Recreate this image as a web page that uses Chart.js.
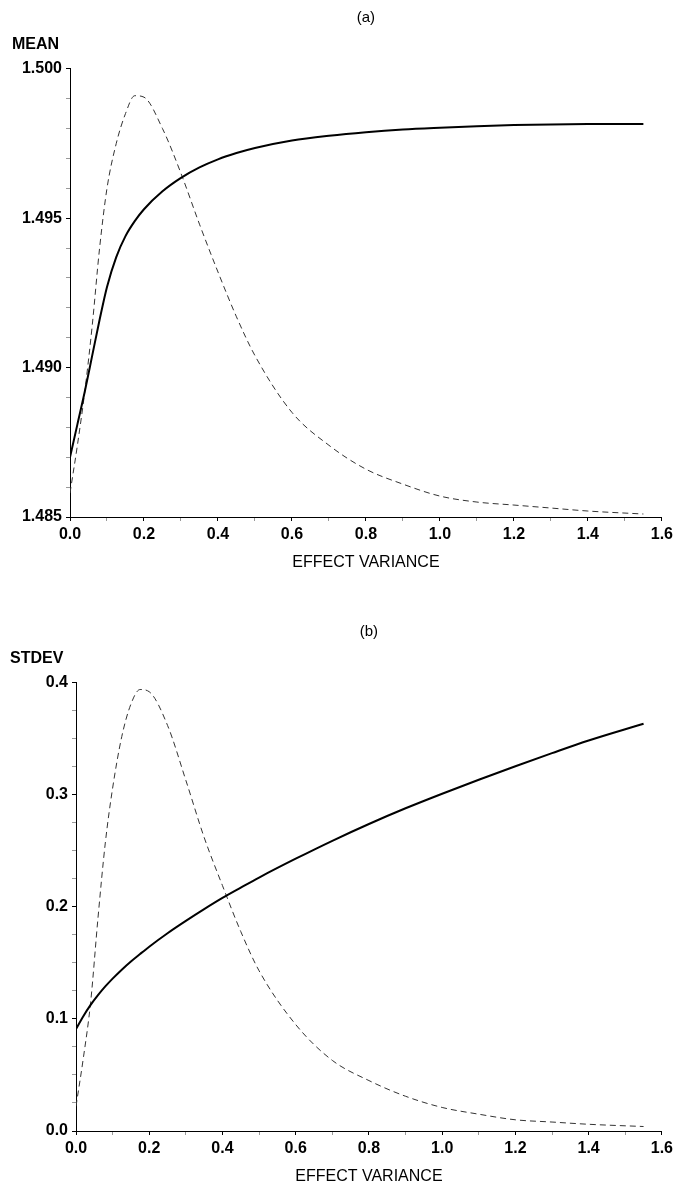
<!DOCTYPE html>
<html>
<head>
<meta charset="utf-8">
<script src="https://cdn.jsdelivr.net/npm/chart.js@4.4.0/dist/chart.umd.min.js"></script>
<style>
    body { margin: 0; background: #fff; }
    canvas { position: absolute; left: 0; }
    #grafica-a { top: 0; }
    #grafica-b { top: 614px; }
</style>
</head>
<body>
<canvas id="grafica-a" width="677" height="572"></canvas>
<canvas id="grafica-b" width="677" height="572"></canvas>
<script type="text/javascript">

    var effectVariance = [0, 0.02, 0.04, 0.06, 0.08, 0.1, 0.125, 0.15, 0.175, 0.2, 0.25, 0.3, 0.35, 0.4, 0.45,
                          0.5, 0.6, 0.7, 0.8, 0.9, 1.0, 1.1, 1.2, 1.3, 1.4, 1.55];

    // (a) solid curve: MEAN
    var meanCurve = [1.4870, 1.4881, 1.4892, 1.4904, 1.4916, 1.4927, 1.4937, 1.4944, 1.4949, 1.4953, 1.4959,
                     1.49635, 1.49670, 1.49697, 1.49718, 1.49735, 1.49760, 1.49776, 1.49788, 1.49797, 1.49803,
                     1.49808, 1.49812, 1.49814, 1.49815, 1.49815];
    // (a) dashed curve
    var meanDensity = [1.4858, 1.4874, 1.4892, 1.4914, 1.4940, 1.4960, 1.4975, 1.4985, 1.4991, 1.49905, 1.4980,
                       1.4965, 1.4948, 1.4932, 1.4917, 1.4904, 1.4885, 1.4874, 1.4866, 1.4861, 1.4857, 1.4855,
                       1.4854, 1.4853, 1.4852, 1.4851];

    // (b) solid curve: STDEV
    var stdevCurve = [0.0910, 0.1025, 0.1125, 0.1212, 0.1290, 0.1360, 0.1440, 0.1513, 0.1580, 0.1645, 0.1765,
                      0.1875, 0.1980, 0.2080, 0.2172, 0.2262, 0.2430, 0.2590, 0.2740, 0.2880, 0.3010, 0.3135,
                      0.3255, 0.3372, 0.3485, 0.3635];
    // (b) dashed curve
    var stdevDensity = [0.022, 0.065, 0.115, 0.190, 0.257, 0.306, 0.352, 0.381, 0.394, 0.392, 0.362, 0.313, 0.262,
                        0.219, 0.178, 0.143, 0.095, 0.063, 0.045, 0.031, 0.021, 0.015, 0.010, 0.008, 0.006, 0.004];

    var xTickLabels = [0.0, 0.2, 0.4, 0.6, 0.8, 1.0, 1.2, 1.4, 1.6];
    var meanTickLabels = [1.485, 1.490, 1.495, 1.500];
    var stdevTickLabels = [0.0, 0.1, 0.2, 0.3, 0.4];

    Chart.defaults.color = '#000';
    Chart.defaults.font.family = "'Liberation Sans', Arial, Helvetica, sans-serif";
    Chart.defaults.font.size = 16;
    Chart.defaults.font.weight = 'bold';

    function puntos(ys) {
        return effectVariance.map(function (x, i) { return { x: x, y: ys[i] }; });
    }

    function esMayor(lista, v) {
        return lista.some(function (t) { return Math.abs(t - v) < 1e-7; });
    }

    function crearGrafica(id, titulo, nombreY, solida, punteada, y) {
        var canvas = document.getElementById(id);
        var context = canvas.getContext('2d');
        return new Chart(context, {
            type: 'line',
            data: {
                datasets: [{
                    data: puntos(solida),
                    borderColor: '#000',
                    borderWidth: 2,
                    pointRadius: 0,
                    cubicInterpolationMode: 'monotone',
                    fill: false
                }, {
                    data: puntos(punteada),
                    borderColor: '#333',
                    borderWidth: 1,
                    borderDash: [6, 4],
                    pointRadius: 0,
                    cubicInterpolationMode: 'monotone',
                    fill: false
                }]
            },
            options: {
                responsive: false,
                animation: false,
                layout: { padding: { left: y.padLeft, right: y.padRight, top: 0, bottom: 0 } },
                plugins: {
                    legend: { display: false },
                    tooltip: { enabled: false },
                    title: {
                        display: true,
                        text: titulo,
                        fullSize: false,
                        font: { size: 15, weight: 'normal' },
                        padding: { top: 9, bottom: 0 }
                    },
                    subtitle: {
                        display: true,
                        text: nombreY,
                        align: 'start',
                        font: { size: 16, weight: 'bold' },
                        padding: { top: 8, bottom: 14.6 }
                    }
                },
                scales: {
                    x: {
                        type: 'linear',
                        min: 0,
                        max: 1.6,
                        afterFit: function (scale) { scale.height = 55; },
                        border: { color: '#000', width: 1 },
                        grid: {
                            drawOnChartArea: false,
                            tickLength: 4,
                            tickColor: function (ctx) { return esMayor(xTickLabels, ctx.tick.value) ? '#000' : '#999'; }
                        },
                        ticks: {
                            stepSize: 0.1,
                            autoSkip: false,
                            maxRotation: 0,
                            padding: 4,
                            callback: function (v) { return esMayor(xTickLabels, v) ? v.toFixed(1) : ''; }
                        },
                        title: {
                            display: true,
                            text: 'EFFECT VARIANCE',
                            font: { size: 16, weight: 'normal' },
                            padding: { top: 4, bottom: 0 }
                        }
                    },
                    y: {
                        min: y.min,
                        max: y.max,
                        afterFit: function (scale) { scale.width = y.ancho; },
                        border: { color: '#000', width: 1 },
                        grid: {
                            drawOnChartArea: false,
                            tickLength: 4,
                            tickColor: function (ctx) { return esMayor(y.etiquetas, ctx.tick.value) ? '#000' : '#999'; }
                        },
                        ticks: {
                            stepSize: y.paso,
                            autoSkip: false,
                            padding: 4,
                            callback: function (v) { return esMayor(y.etiquetas, v) ? v.toFixed(y.decimales) : ''; }
                        }
                    }
                }
            }
        });
    }

    crearGrafica('grafica-a', '(a)', 'MEAN', meanCurve, meanDensity, {
        min: 1.485, max: 1.500, paso: 0.001, etiquetas: meanTickLabels, decimales: 3,
        padLeft: 12, padRight: 10, ancho: 58
    });

    crearGrafica('grafica-b', '(b)', 'STDEV', stdevCurve, stdevDensity, {
        min: 0, max: 0.4, paso: 0.025, etiquetas: stdevTickLabels, decimales: 1,
        padLeft: 10, padRight: 11, ancho: 66
    });

</script>
</body>
</html>
